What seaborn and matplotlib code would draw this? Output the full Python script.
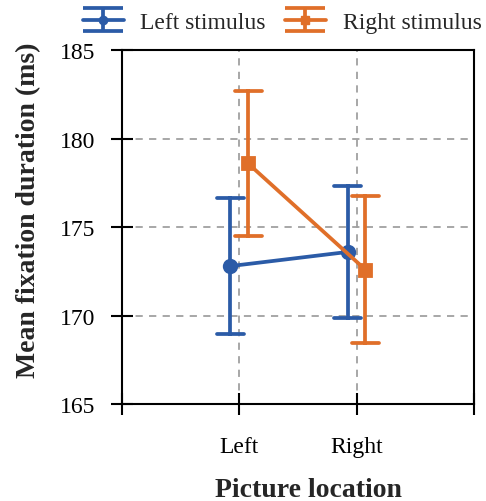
import numpy as np
import pandas as pd
import matplotlib
matplotlib.use("Agg")
import matplotlib.pyplot as plt
import seaborn as sns

# values
locations = ["Left", "Right"]
stimuli = ["Left stimulus", "Right stimulus"]
mean_left_stim = [172.8, 173.6]
err_left_stim = [3.85, 3.75]
mean_right_stim = [178.6, 172.6]
err_right_stim = [4.1, 4.15]

colors = ["#2b5ba7", "#e06f29"]
markers = ["o", "s"]

# each point stored as (mean - err, mean, mean + err) so that the median gives the
# point and the min/max give the error bar
rows = []
for stim, means, errs in [(stimuli[0], mean_left_stim, err_left_stim),
                          (stimuli[1], mean_right_stim, err_right_stim)]:
    for loc, m, e in zip(locations, means, errs):
        for v in (m - e, m, m + e):
            rows.append({"location": loc, "stimulus": stim, "duration": v})
df = pd.DataFrame(rows)

sns.set_theme(style="ticks")
plt.rcParams["font.family"] = ["Liberation Serif", "DejaVu Serif"]

fig = plt.figure(figsize=(4.86, 5.02), dpi=100)
ax = fig.add_axes([0.251, 0.193, 0.724, 0.705])

lw = 2.7
sns.pointplot(
    data=df, x="location", y="duration", hue="stimulus",
    order=locations, hue_order=stimuli, palette=colors,
    estimator="median", errorbar=lambda v: (v.min(), v.max()),
    markers=markers, linestyles="-", dodge=0.15, capsize=0.23,
    markersize=9, linewidth=lw, err_kws={"linewidth": lw},
    legend=False, ax=ax,
)

# proxy errorbar handles for the legend
handles = []
for stim, c, mk in zip(stimuli, colors, markers):
    h = ax.errorbar([np.nan], [np.nan], yerr=[np.nan], color=c, marker=mk,
                    markersize=6, lw=lw, capsize=14.5, capthick=lw, label=stim)
    handles.append(h)
ax.legend(handles=handles, labels=stimuli, ncol=2, frameon=False,
          loc="center", bbox_to_anchor=(282 / 486, 0.954),
          bbox_transform=fig.transFigure, fontsize=17,
          handlelength=1.75, columnspacing=0.8, handletextpad=0.7,
          borderaxespad=0.0, borderpad=0.0)

ax.set_xlim(-1, 2)
ax.set_xticks([-1, 0, 1, 2])
ax.set_xticklabels(["", "Left", "Right", ""])
ax.set_ylim(165, 185)
ax.set_yticks([165, 170, 175, 180, 185])

ax.grid(True, linestyle=(0, (4, 3.5)), color="#a0a0a0", linewidth=1.3)
ax.set_axisbelow(True)
for s in ax.spines.values():
    s.set_color("black")
    s.set_linewidth(1.5)
ax.tick_params(axis="both", direction="inout", length=16, width=1.5,
               colors="black", labelsize=17)
ax.tick_params(axis="x", pad=15)
ax.tick_params(axis="y", pad=11)

ax.set_xlabel("Picture location", fontsize=20, fontweight="bold")
ax.set_ylabel("Mean fixation duration (ms)", fontsize=20, fontweight="bold")
ax.xaxis.set_label_coords(0.531, -0.205)
ax.yaxis.set_label_coords(-0.23, 0.55)

fig.savefig("out.png", dpi=100)
